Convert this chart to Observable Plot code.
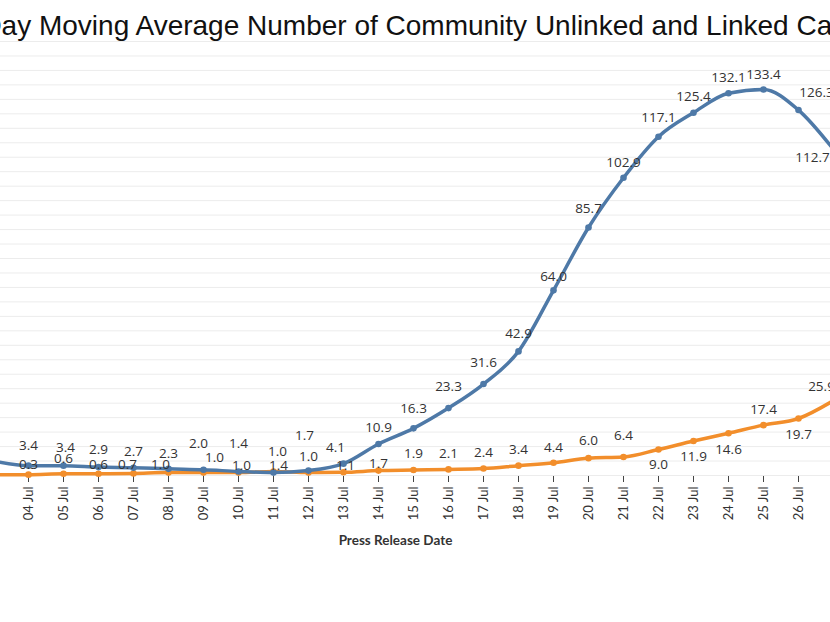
<!DOCTYPE html>
<html><head><meta charset="utf-8">
<script src="https://cdn.jsdelivr.net/npm/d3@7"></script>
<script src="https://cdn.jsdelivr.net/npm/@observablehq/plot@0.6"></script>
<style>
html,body{margin:0;padding:0;background:#fff;overflow:hidden;}
#chart{width:830px;height:622px;overflow:hidden;position:relative;}
#chart svg{overflow:hidden;}
</style></head><body><div id="chart"></div>
<script>
// ---- data ----
const dates = ["03 Jul","04 Jul","05 Jul","06 Jul","07 Jul","08 Jul","09 Jul","10 Jul","11 Jul","12 Jul","13 Jul","14 Jul","15 Jul","16 Jul","17 Jul","18 Jul","19 Jul","20 Jul","21 Jul","22 Jul","23 Jul","24 Jul","25 Jul","26 Jul","27 Jul"];
const linked   = [5.0,3.4,3.4,2.9,2.7,2.3,2.0,1.4,1.0,1.7,4.1,10.9,16.3,23.3,31.6,42.9,64.0,85.7,102.9,117.1,125.4,132.1,133.4,126.3,112.7];
const unlinked = [0.3,0.3,0.6,0.6,0.7,1.0,1.0,1.0,1.4,1.0,1.1,1.7,1.9,2.1,2.4,3.4,4.4,6.0,6.4,9.0,11.9,14.6,17.4,19.7,25.9];
const tickDates = dates.slice(1, -1);      // dates whose tick labels fall inside the picture
const labelDates = dates.slice(1);          // dates whose data labels fall inside the picture
const yGrid = d3.range(0, 151, 5);
const title = "7-Day Moving Average Number of Community Unlinked and Linked Cases";
const xTitle = "Press Release Date";

// ---- label placement (pixel offsets, layout only) ----
const linkedDy = [-18,-20,-18,-17,-16,-15,-26,-28,-21,-35,-16,-16,-20,-21,-21,-18,-14,-19,-15,-19,-16,-16,-15,-17,8];
const linkedDx = [0,0,2,0,0,0,-5,0,4,-4,-8,0,0,0,0,0,0,0,0,0,0,0,0,18,-21];
const unlinkedDy = [-9,-10,-15,-9,-9,-8,-15,-7,-6,-16,-7,-7,-16,-16,-16,-16,-15,-17,-21,15,16,16,-15,16,-14];
const unlinkedDx = [0,0,0,0,-6,-8,11,3,5,0,2,0,0,0,0,0,0,0,0,0,0,0,0,0,-12];

const BLUE = "#4e79a7", ORANGE = "#f28e2b";
const fmt = d3.format(".1f");

const rowsL = dates.map((d,i)=>({date:d, value:linked[i], dx:linkedDx[i], dy:linkedDy[i]}));
const rowsU = dates.map((d,i)=>({date:d, value:unlinked[i], dx:unlinkedDx[i], dy:unlinkedDy[i]}));

function labelMarks(rows){
  const shown = rows.filter(r => labelDates.includes(r.date));
  const groups = d3.groups(shown, r => r.dx + "," + r.dy);
  return groups.map(([k, g]) => Plot.text(g, {
    x:"date", y:"value", text: r => fmt(r.value),
    dx: g[0].dx, dy: g[0].dy, lineAnchor:"middle",
    fontFamily:"Open Sans", fontSize:13.5, fill:"#333"
  }));
}

const plot = Plot.plot({
  width: 830, height: 560,
  marginLeft: 0, marginRight: 0, marginTop: 0, marginBottom: 84,
  style: {fontFamily: "Lato", fontSize: "13px", color: "#333", background: "#fff"},
  x: {type: "point", domain: dates, range: [-12.1, 837.7], padding: 0},
  y: {domain: [0, 150], range: [475, 41], axis: null},
  marks: [
    Plot.ruleY(yGrid, {stroke: "#ececec", strokeWidth: 1}),
    Plot.axisX(tickDates, {tickRotate: -90, tickSize: 6, tickPadding: 4, fontSize: 13, label: null, stroke: "#444", fill: "#333"}),
    Plot.line(rowsU, {x:"date", y:"value", stroke: ORANGE, strokeWidth: 3.5, curve: "monotone-x"}),
    Plot.dot(rowsU, {x:"date", y:"value", fill: ORANGE, r: 3.3}),
    Plot.line(rowsL, {x:"date", y:"value", stroke: BLUE, strokeWidth: 3.5, curve: "monotone-x"}),
    Plot.dot(rowsL, {x:"date", y:"value", fill: BLUE, r: 3.3}),
    ...labelMarks(rowsU),
    ...labelMarks(rowsL),
    Plot.text([title], {text: d => d, frameAnchor: "top-left", dx: -44, dy: 34, textAnchor: "start", lineAnchor: "bottom",
      fontFamily: "Liberation Sans", fontSize: 28, fill: "#111"}),
    Plot.text([xTitle], {text: d => d, frameAnchor: "bottom", dx: -20, dy: 64, lineAnchor: "middle",
      fontFamily: "Lato", fontWeight: "bold", fontSize: 13.5, fill: "#333"})
  ]
});
document.getElementById("chart").appendChild(plot);
</script></body></html>
